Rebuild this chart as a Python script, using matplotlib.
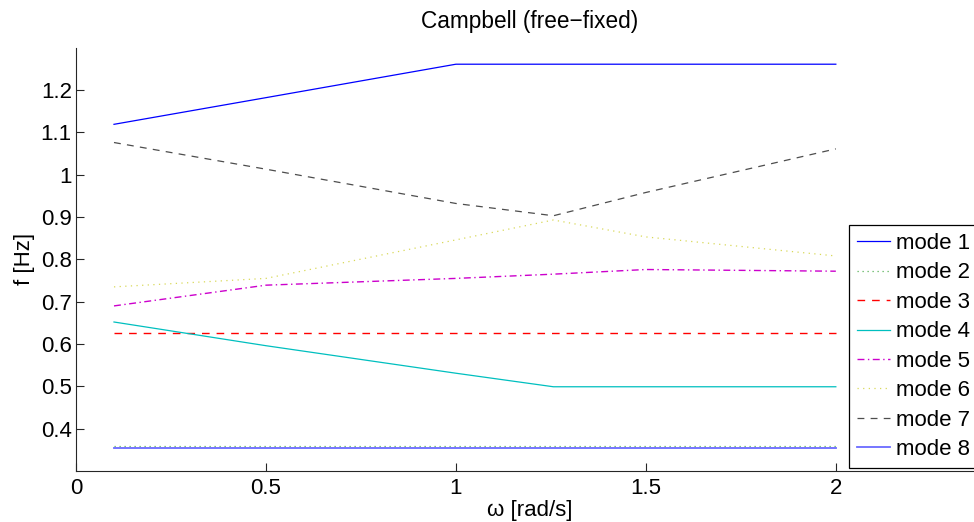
import numpy as np
import matplotlib
matplotlib.use('Agg')
import matplotlib.pyplot as plt

#rotor speed samples [rad/s]
omega = [0.1, 0.5, 1.0, 1.2566, 1.5, 2.0]

#eigenfrequencies per mode [Hz]
mode1 = [1.119, 1.182, 1.261, 1.261, 1.261, 1.261]
mode2 = [0.359, 0.359, 0.359, 0.359, 0.359, 0.359]
mode3 = [0.625, 0.625, 0.625, 0.625, 0.625, 0.625]
mode4 = [0.652, 0.596, 0.531, 0.499, 0.499, 0.499]
mode5 = [0.690, 0.739, 0.755, 0.765, 0.776, 0.772]
mode6 = [0.735, 0.755, 0.846, 0.893, 0.853, 0.808]
mode7 = [1.076, 1.013, 0.932, 0.903, 0.958, 1.061]
mode8 = [0.355, 0.355, 0.355, 0.355, 0.355, 0.355]

modes = [mode1, mode2, mode3, mode4, mode5, mode6, mode7, mode8]
labels = ['mode %d' % (i + 1) for i in range(len(modes))]

xticks = [0, 0.5, 1, 1.5, 2]
xtick_labels = ['0', '0.5', '1', '1.5', '2']
yticks = [0.4, 0.5, 0.6, 0.7, 0.8, 0.9, 1.0, 1.1, 1.2]
ytick_labels = ['0.4', '0.5', '0.6', '0.7', '0.8', '0.9', '1', '1.1', '1.2']

#old matlab color order, cycles back to blue for the 8th line
styles = [
    dict(color=(0, 0, 1), ls='-', lw=0.9),
    dict(color=(0.35, 0.7, 0.35), ls=(0, (1, 3)), lw=0.9),
    dict(color=(1, 0, 0), ls=(0, (5.5, 5)), lw=1.0),
    dict(color=(0, 0.75, 0.75), ls='-', lw=0.9),
    dict(color=(0.8, 0, 0.8), ls=(0, (5, 2.5, 1, 2.5)), lw=1.0),
    dict(color=(0.85, 0.85, 0.35), ls=(0, (1, 3.5)), lw=0.9),
    dict(color=(0.3, 0.3, 0.3), ls=(0, (5.5, 5)), lw=0.9),
    dict(color='#6a6aff', ls='-', lw=1.3),
]

plt.rcParams['font.family'] = ['Liberation Sans', 'DejaVu Sans']
plt.rcParams['font.size'] = 16

W, H = 974, 522
fig = plt.figure(figsize=(W / 100, H / 100), dpi=100)
ax = fig.add_axes([76 / W, 1 - 471 / H, 908 / W, (471 - 47.7) / H])

for y, lab, st in zip(modes, labels, styles):
    ax.plot(omega, y, label=lab, color=st['color'], linestyle=st['ls'], linewidth=st['lw'])

ax.set_xlim(0, 2.39)
ax.set_ylim(0.3, 1.3)
ax.set_xticks(xticks)
ax.set_xticklabels(xtick_labels)
ax.set_yticks(yticks)
ax.set_yticklabels(ytick_labels)

for side in ['top', 'right']:
    ax.spines[side].set_visible(False)
for side in ['left', 'bottom']:
    ax.spines[side].set_color('#262626')
    ax.spines[side].set_linewidth(0.8)
ax.tick_params(direction='in', length=5.8, width=0.8, color='#262626')
ax.tick_params(axis='x', pad=5)
ax.tick_params(axis='y', pad=3)

ax.set_title('Campbell (free\u2212fixed)', fontsize=16.3, pad=14)
ax.set_xlabel('\u03c9 [rad/s]', labelpad=1)
ax.set_ylabel('f [Hz]', labelpad=4)

leg = ax.legend(loc='upper left', bbox_to_anchor=(849 / W, 1 - 225 / H),
                bbox_transform=fig.transFigure, borderaxespad=0,
                fancybox=False, framealpha=1, edgecolor='black',
                handlelength=1.5, handletextpad=0.25, labelspacing=0.38,
                borderpad=0.36)
leg.get_frame().set_linewidth(0.9)

fig.savefig('out.png', dpi=100)
